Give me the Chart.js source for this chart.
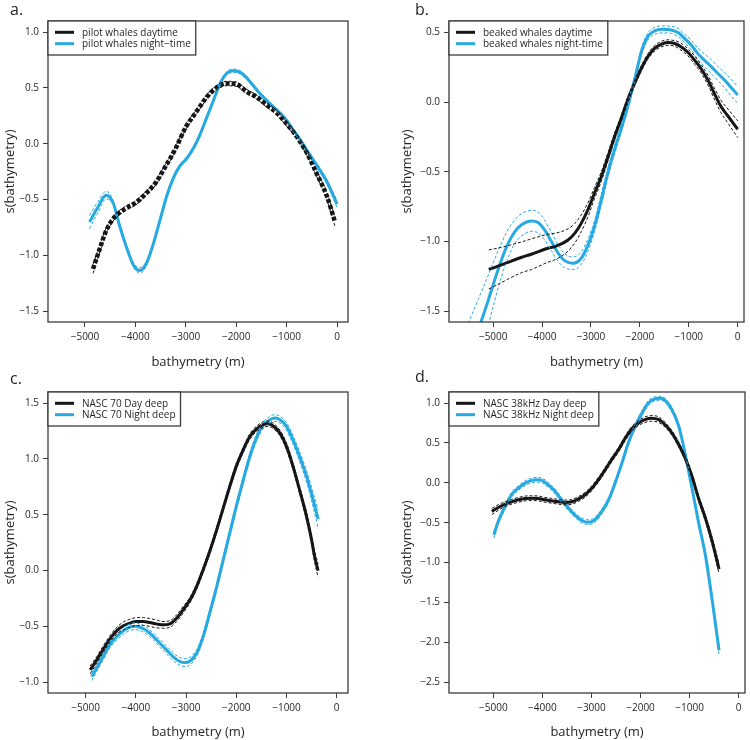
<!DOCTYPE html>
<html lang="en">
<head>
  <title>s(bathymetry) - day / night smooths</title>
  <meta charset="utf-8">
  <script src="https://cdn.jsdelivr.net/npm/chart.js@4.4.1/dist/chart.umd.min.js"></script>
  <style>
    body { margin: 0; background: #fff; }
    #wrap { position: relative; width: 750px; height: 740px; }
    #wrap canvas { position: absolute; }
  </style>
</head>
<body>
<div id="wrap">
  <canvas id="panelA" width="375" height="370" style="left:0;top:0"></canvas>
  <canvas id="panelB" width="375" height="370" style="left:375px;top:0"></canvas>
  <canvas id="panelC" width="375" height="370" style="left:0;top:370px"></canvas>
  <canvas id="panelD" width="375" height="370" style="left:375px;top:370px"></canvas>
</div>

<script>
// ---- tick values ----
var xTicks  = [-5000, -4000, -3000, -2000, -1000, 0];
var aYTicks = [-1.5, -1.0, -0.5, 0.0, 0.5, 1.0];
var bYTicks = [-1.5, -1.0, -0.5, 0.0, 0.5];
var cYTicks = [-1.0, -0.5, 0.0, 0.5, 1.0, 1.5];
var dYTicks = [-2.5, -2.0, -1.5, -1.0, -0.5, 0.0, 0.5, 1.0];

// ---- a. pilot whales ----
var aDayX  = [-4840, -4700, -4600, -4500, -4400, -4200, -4000, -3800, -3600, -3400, -3200, -3000, -2800, -2600, -2400, -2200, -2000, -1800, -1600, -1400, -1200, -1000, -800, -600, -400, -200, -40];
var aDayY  = [-1.12, -0.93, -0.80, -0.71, -0.65, -0.58, -0.53, -0.45, -0.35, -0.20, -0.04, 0.15, 0.28, 0.41, 0.50, 0.54, 0.535, 0.47, 0.42, 0.35, 0.28, 0.18, 0.065, -0.08, -0.27, -0.47, -0.70];
var aDaySe = [0.04, 0.03, 0.025, 0.02, 0.02, 0.02, 0.02, 0.02, 0.02, 0.02, 0.02, 0.02, 0.02, 0.02, 0.02, 0.02, 0.02, 0.02, 0.02, 0.02, 0.02, 0.02, 0.02, 0.02, 0.025, 0.03, 0.04];

var aNightX  = [-4910, -4760, -4580, -4440, -4310, -4170, -4040, -3910, -3780, -3640, -3510, -3380, -3250, -3120, -2980, -2850, -2720, -2590, -2450, -2320, -2190, -2060, -1920, -1790, -1660, -1530, -1400, -1260, -1130, -1000, -870, -730, -600, -470, -340, -200, 0];
var aNightY  = [-0.70, -0.58, -0.46, -0.53, -0.74, -0.935, -1.085, -1.135, -1.07, -0.89, -0.68, -0.47, -0.31, -0.20, -0.13, -0.04, 0.08, 0.23, 0.39, 0.54, 0.63, 0.655, 0.64, 0.59, 0.52, 0.45, 0.39, 0.33, 0.275, 0.21, 0.125, 0.035, -0.055, -0.145, -0.235, -0.34, -0.54];
var aNightSe = [0.06, 0.05, 0.035, 0.02, 0.02, 0.02, 0.02, 0.025, 0.02, 0.015, 0.015, 0.015, 0.015, 0.015, 0.015, 0.015, 0.015, 0.015, 0.015, 0.015, 0.015, 0.015, 0.015, 0.015, 0.015, 0.015, 0.015, 0.015, 0.015, 0.015, 0.015, 0.015, 0.015, 0.015, 0.02, 0.02, 0.03];

// ---- b. beaked whales ----
var bDayX  = [-5090, -4900, -4700, -4420, -4220, -3880, -3740, -3470, -3330, -3200, -3060, -2930, -2790, -2650, -2520, -2380, -2250, -2110, -1970, -1840, -1700, -1570, -1430, -1290, -1160, -1020, -880, -750, -610, -480, -340, -200, 0];
var bDayY  = [-1.20, -1.177, -1.15, -1.113, -1.091, -1.048, -1.036, -0.989, -0.94, -0.87, -0.77, -0.654, -0.535, -0.39, -0.25, -0.116, 0.015, 0.134, 0.242, 0.325, 0.385, 0.414, 0.426, 0.42, 0.397, 0.357, 0.30, 0.24, 0.158, 0.063, -0.033, -0.10, -0.195];
var bDaySe = [0.14, 0.13, 0.12, 0.11, 0.11, 0.10, 0.095, 0.08, 0.07, 0.06, 0.05, 0.04, 0.035, 0.03, 0.025, 0.02, 0.02, 0.02, 0.02, 0.02, 0.02, 0.02, 0.02, 0.02, 0.025, 0.025, 0.03, 0.03, 0.035, 0.04, 0.045, 0.05, 0.06];

var bNightX  = [-5550, -5300, -5100, -4970, -4830, -4690, -4560, -4420, -4220, -4080, -3950, -3810, -3670, -3540, -3370, -3200, -3060, -2930, -2790, -2650, -2520, -2380, -2250, -2110, -1970, -1840, -1700, -1530, -1360, -1220, -1090, -950, -820, -680, -540, -410, -270, -140, 0];
var bNightY  = [-1.92, -1.63, -1.42, -1.275, -1.13, -1.01, -0.93, -0.88, -0.852, -0.864, -0.917, -1.00, -1.084, -1.137, -1.156, -1.12, -1.024, -0.893, -0.702, -0.501, -0.343, -0.188, -0.033, 0.158, 0.36, 0.469, 0.51, 0.521, 0.517, 0.498, 0.457, 0.409, 0.349, 0.30, 0.254, 0.206, 0.158, 0.106, 0.051];
var bNightSe = [0.30, 0.22, 0.18, 0.15, 0.12, 0.10, 0.085, 0.08, 0.075, 0.075, 0.07, 0.065, 0.06, 0.05, 0.045, 0.045, 0.045, 0.04, 0.04, 0.035, 0.03, 0.03, 0.025, 0.025, 0.025, 0.025, 0.025, 0.025, 0.025, 0.03, 0.03, 0.035, 0.04, 0.045, 0.05, 0.05, 0.055, 0.06, 0.06];

// ---- c. NASC 70 ----
var cDayX  = [-4910, -4780, -4650, -4520, -4380, -4250, -4120, -3990, -3850, -3720, -3590, -3460, -3320, -3190, -3060, -2920, -2790, -2660, -2530, -2390, -2260, -2130, -2000, -1860, -1730, -1600, -1470, -1370, -1270, -1130, -1000, -870, -740, -600, -500, -440, -370];
var cDayY  = [-0.889, -0.80, -0.704, -0.615, -0.537, -0.495, -0.471, -0.456, -0.456, -0.465, -0.477, -0.486, -0.477, -0.427, -0.352, -0.262, -0.143, 0.007, 0.171, 0.365, 0.559, 0.753, 0.933, 1.082, 1.201, 1.267, 1.306, 1.315, 1.297, 1.231, 1.112, 0.933, 0.723, 0.484, 0.275, 0.126, 0.0];
var cDaySe = [0.035, 0.03, 0.03, 0.03, 0.03, 0.035, 0.035, 0.035, 0.035, 0.035, 0.035, 0.03, 0.03, 0.03, 0.03, 0.025, 0.025, 0.025, 0.025, 0.025, 0.025, 0.025, 0.025, 0.025, 0.025, 0.025, 0.025, 0.025, 0.025, 0.025, 0.03, 0.03, 0.03, 0.035, 0.04, 0.05, 0.06];

var cNightX  = [-4880, -4780, -4650, -4520, -4380, -4250, -4120, -4020, -3920, -3790, -3650, -3520, -3390, -3260, -3120, -3020, -2920, -2790, -2660, -2530, -2390, -2260, -2130, -2000, -1860, -1730, -1600, -1470, -1330, -1230, -1130, -1000, -870, -740, -600, -470, -370];
var cNightY  = [-0.949, -0.875, -0.77, -0.665, -0.591, -0.54, -0.507, -0.498, -0.507, -0.537, -0.591, -0.651, -0.71, -0.77, -0.815, -0.824, -0.809, -0.74, -0.591, -0.382, -0.143, 0.096, 0.335, 0.574, 0.813, 1.022, 1.186, 1.297, 1.351, 1.366, 1.351, 1.291, 1.171, 1.022, 0.843, 0.634, 0.461];
var cNightSe = [0.035, 0.03, 0.03, 0.03, 0.03, 0.03, 0.03, 0.03, 0.03, 0.03, 0.03, 0.035, 0.035, 0.035, 0.035, 0.035, 0.035, 0.03, 0.03, 0.03, 0.03, 0.03, 0.03, 0.03, 0.03, 0.03, 0.03, 0.03, 0.03, 0.03, 0.03, 0.035, 0.04, 0.045, 0.05, 0.065, 0.08];

// ---- d. NASC 38kHz ----
var dDayX  = [-5030, -4900, -4760, -4630, -4490, -4350, -4220, -4080, -3950, -3810, -3670, -3540, -3400, -3270, -3130, -2990, -2860, -2720, -2590, -2450, -2310, -2180, -2040, -1910, -1770, -1630, -1500, -1360, -1220, -1090, -950, -820, -680, -540, -400];
var dDayY  = [-0.359, -0.309, -0.267, -0.238, -0.213, -0.196, -0.192, -0.196, -0.213, -0.225, -0.238, -0.246, -0.238, -0.204, -0.15, -0.066, 0.038, 0.164, 0.289, 0.414, 0.561, 0.674, 0.749, 0.791, 0.808, 0.791, 0.728, 0.624, 0.477, 0.31, 0.08, -0.19, -0.44, -0.735, -1.08];
var dDaySe = [0.04, 0.035, 0.03, 0.03, 0.03, 0.03, 0.03, 0.03, 0.03, 0.03, 0.03, 0.03, 0.03, 0.03, 0.03, 0.03, 0.03, 0.03, 0.03, 0.03, 0.03, 0.03, 0.03, 0.035, 0.035, 0.035, 0.03, 0.03, 0.03, 0.03, 0.03, 0.035, 0.04, 0.05, 0.06];

var dNightX  = [-4990, -4900, -4760, -4630, -4490, -4350, -4220, -4120, -4010, -3880, -3740, -3610, -3470, -3330, -3200, -3060, -2930, -2790, -2650, -2520, -2380, -2250, -2110, -1970, -1840, -1700, -1600, -1500, -1360, -1220, -1090, -950, -820, -680, -540, -400];
var dNightY  = [-0.652, -0.485, -0.297, -0.15, -0.066, -0.004, 0.03, 0.038, 0.03, -0.025, -0.108, -0.213, -0.317, -0.409, -0.472, -0.493, -0.464, -0.359, -0.213, -0.004, 0.247, 0.498, 0.707, 0.875, 1.0, 1.054, 1.059, 1.033, 0.916, 0.707, 0.36, -0.07, -0.49, -0.90, -1.47, -2.10];
var dNightSe = [0.04, 0.035, 0.03, 0.03, 0.03, 0.03, 0.03, 0.03, 0.03, 0.03, 0.03, 0.03, 0.03, 0.03, 0.03, 0.03, 0.03, 0.03, 0.03, 0.03, 0.03, 0.03, 0.03, 0.03, 0.03, 0.025, 0.025, 0.025, 0.03, 0.03, 0.03, 0.03, 0.03, 0.035, 0.04, 0.05];

var DAY_COL = '#161616';
var NIGHT_COL = '#27a9e1';
var TEXT_COL = '#231f20';
var FRAME_COL = '#3c3c3c';
var FONT = '"Open Sans", "DejaVu Sans", sans-serif';

Chart.defaults.font.family = FONT;
Chart.defaults.color = TEXT_COL;

function pts(xs, ys) {
  return xs.map(function (x, i) { return { x: x, y: ys[i] }; });
}
function bandPts(xs, ys, se, sign) {
  return xs.map(function (x, i) { return { x: x, y: ys[i] + sign * se[i] }; });
}

function minus(s) { return String(s).replace('-', '\u2212'); }

// frame box, legend box and panel letter
var panelDecor = {
  id: 'panelDecor',
  afterDatasetsDraw: function (chart, args, opts) {
    var ctx = chart.ctx, a = chart.chartArea;
    ctx.save();
    ctx.setLineDash([]);
    ctx.strokeStyle = FRAME_COL;
    ctx.lineWidth = 1.3;
    ctx.strokeRect(a.left, a.top, a.right - a.left, a.bottom - a.top);

    var items = chart.data.datasets.filter(function (d) { return !d.band; });
    ctx.font = '10px ' + FONT;
    var tw = 0;
    items.forEach(function (d) { tw = Math.max(tw, ctx.measureText(d.label).width); });
    var w = 34 + tw + 5, h = 34;
    ctx.fillStyle = '#fff';
    ctx.fillRect(a.left, a.top, w, h);
    ctx.strokeRect(a.left, a.top, w, h);
    items.forEach(function (d, i) {
      var y = a.top + 11.3 + i * 11.4;
      ctx.strokeStyle = d.borderColor;
      ctx.lineWidth = 3;
      ctx.beginPath();
      ctx.moveTo(a.left + 7, y);
      ctx.lineTo(a.left + 26, y);
      ctx.stroke();
      ctx.fillStyle = TEXT_COL;
      ctx.textBaseline = 'middle';
      ctx.fillText(d.label, a.left + 34, y + 0.5);
    });

    ctx.font = '16px ' + FONT;
    ctx.textBaseline = 'alphabetic';
    ctx.fillStyle = TEXT_COL;
    ctx.fillText(opts.tag, opts.tagX, opts.tagY);
    ctx.restore();
  }
};

function makePanel(id, p) {
  var sets = [
    { label: 'se', band: true, data: bandPts(p.dayX, p.dayY, p.daySe, 1), borderColor: DAY_COL, borderWidth: 1, borderDash: [3, 2] },
    { label: 'se', band: true, data: bandPts(p.dayX, p.dayY, p.daySe, -1), borderColor: DAY_COL, borderWidth: 1, borderDash: [3, 2] },
    { label: 'se', band: true, data: bandPts(p.nightX, p.nightY, p.nightSe, 1), borderColor: NIGHT_COL, borderWidth: 1, borderDash: [3, 2] },
    { label: 'se', band: true, data: bandPts(p.nightX, p.nightY, p.nightSe, -1), borderColor: NIGHT_COL, borderWidth: 1, borderDash: [3, 2] },
    { label: p.labels[0], data: pts(p.dayX, p.dayY), borderColor: DAY_COL, borderWidth: p.dayWidth || 3, borderDash: p.dayDash || [] },
    { label: p.labels[1], data: pts(p.nightX, p.nightY), borderColor: NIGHT_COL, borderWidth: 3 }
  ];

  new Chart(document.getElementById(id), {
    type: 'line',
    data: { datasets: sets },
    plugins: [panelDecor],
    options: {
      responsive: false,
      animation: false,
      layout: { padding: p.pad },
      elements: {
        point: { radius: 0 },
        line: { cubicInterpolationMode: 'monotone', fill: false, borderCapStyle: 'butt' }
      },
      plugins: {
        legend: { display: false },
        tooltip: { enabled: false },
        panelDecor: { tag: p.tag, tagX: p.tagX, tagY: p.tagY }
      },
      scales: {
        x: {
          type: 'linear',
          min: p.xMin, max: p.xMax,
          afterBuildTicks: function (s) { s.ticks = xTicks.map(function (v) { return { value: v }; }); },
          afterFit: function (s) { s.height = p.xH; },
          border: { display: false },
          grid: { drawOnChartArea: false, drawTicks: true, tickLength: 5, color: FRAME_COL, lineWidth: 1 },
          ticks: { padding: 4, font: { size: 10 }, color: TEXT_COL, maxRotation: 0, callback: function (v) { return minus(v); } },
          title: { display: true, text: 'bathymetry (m)', font: { size: 13 }, color: TEXT_COL, padding: { top: 0, bottom: 0 } }
        },
        y: {
          type: 'linear',
          min: p.yMin, max: p.yMax,
          afterBuildTicks: function (s) { s.ticks = p.yTicks.map(function (v) { return { value: v }; }); },
          afterFit: function (s) { s.width = p.yW; },
          border: { display: false },
          grid: { drawOnChartArea: false, drawTicks: true, tickLength: 5, color: FRAME_COL, lineWidth: 1 },
          ticks: { padding: 4, font: { size: 10 }, color: TEXT_COL, callback: function (v) { return minus(v.toFixed(1)); } },
          title: { display: true, text: 's(bathymetry)', font: { size: 13 }, color: TEXT_COL, padding: { top: 2, bottom: 0 } }
        }
      }
    }
  });
}

makePanel('panelA', {
  tag: 'a.', tagX: 10, tagY: 15,
  labels: ['pilot whales daytime', 'pilot whales night\u2212time'],
  dayX: aDayX, dayY: aDayY, daySe: aDaySe, nightX: aNightX, nightY: aNightY, nightSe: aNightSe,
  dayWidth: 4.5, dayDash: [4, 2],
  xMin: -5734, xMax: 218, yMin: -1.596, yMax: 1.10, yTicks: aYTicks,
  pad: { left: 0, right: 27, top: 21, bottom: 0 }, yW: 48, xH: 48
});

makePanel('panelB', {
  tag: 'b.', tagX: 40, tagY: 15,
  labels: ['beaked whales daytime', 'beaked whales night-time'],
  dayX: bDayX, dayY: bDayY, daySe: bDaySe, nightX: bNightX, nightY: bNightY, nightSe: bNightSe,
  xMin: -5904, xMax: 129, yMin: -1.577, yMax: 0.581, yTicks: bYTicks,
  pad: { left: 22, right: 6, top: 21, bottom: 0 }, yW: 52, xH: 48
});

makePanel('panelC', {
  tag: 'c.', tagX: 10, tagY: 13.5,
  labels: ['NASC 70 Day deep', 'NASC 70 Night deep'],
  dayX: cDayX, dayY: cDayY, daySe: cDaySe, nightX: cNightX, nightY: cNightY, nightSe: cNightSe,
  xMin: -5750, xMax: 225, yMin: -1.096, yMax: 1.599, yTicks: cYTicks,
  pad: { left: 0, right: 27, top: 22, bottom: 0 }, yW: 48, xH: 47
});

makePanel('panelD', {
  tag: 'd.', tagX: 40, tagY: 12,
  labels: ['NASC 38kHz Day deep', 'NASC 38kHz Night deep'],
  dayX: dDayX, dayY: dDayY, daySe: dDaySe, nightX: dNightX, nightY: dNightY, nightSe: dNightSe,
  xMin: -5904, xMax: 129, yMin: -2.634, yMax: 1.138, yTicks: dYTicks,
  pad: { left: 22, right: 5, top: 22, bottom: 0 }, yW: 52, xH: 47
});
</script>
</body>
</html>
